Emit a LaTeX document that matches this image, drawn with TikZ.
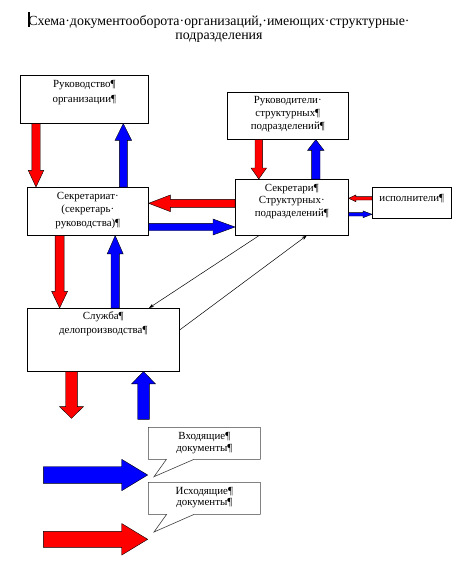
\documentclass[tikz,border=0pt]{standalone}
\usepackage{fontspec}
\setmainfont{Liberation Serif}
\usetikzlibrary{calc,shapes.callouts,arrows.meta}
\definecolor{ared}{RGB}{255,0,0}
\definecolor{ablue}{RGB}{0,0,255}
\tikzset{
  x=1pt,y=-1pt,
  box/.style={draw=black, line width=0.6pt, inner sep=0pt, anchor=north west, fill=white},
  callbox/.style={rectangle callout, draw=black!75, line width=0.6pt, inner sep=0pt,
    fill=white, anchor=north west, callout pointer width=27.6pt},
  thinarrow/.style={draw=black, line width=0.5pt, -{Stealth[length=5pt,width=3.5pt]}},
  blockedge/.style={draw=black, line width=0.4pt, line join=miter},
}
\newcommand\boxtext[5]{\parbox[t][#2pt][t]{#1pt}{\centering\fontsize{10.9}{#4}\selectfont\rule{0pt}{#3pt}#5}}
% #1 colour, #2 from, #3 to, #4 shaft half width, #5 head half width, #6 head length
\newcommand\blockarrow[6]{%
  \coordinate (ba) at (#2);
  \coordinate (bb) at (#3);
  \coordinate (bh) at ($(bb)!#6pt!(ba)$);
  \filldraw[fill=#1, blockedge]
    ($(ba)!#4pt!90:(bb)$) -- ($(bh)!#4pt!90:(bb)$) -- ($(bh)!#5pt!90:(bb)$) -- (bb)
    -- ($(bh)!#5pt!-90:(bb)$) -- ($(bh)!#4pt!-90:(bb)$) -- ($(ba)!#4pt!-90:(bb)$) -- cycle;
}
\begin{document}
\begin{tikzpicture}
\useasboundingbox[fill=white] (0,0) rectangle (460,579);

% title
\node[inner sep=0pt, anchor=north] (title) at (219,10)
  {\parbox[t]{440pt}{\centering\fontsize{13.9}{14}\selectfont\rule{0pt}{15pt}Схема·документооборота·организаций,·имеющих·структурные·\\подразделения}};
\draw[line width=1.1pt] (29,12) -- (29,27);

% boxes
\node[box] (ruk) at (20,75) {\boxtext{128}{48}{12}{15}{Руководство¶\\организации¶}};
\node[box] (sekr) at (27,187) {\boxtext{121}{48}{12.3}{13.3}{Секретариат·\\(секретарь·\\руководства)¶}};
\node[box] (rukS) at (227,92) {\boxtext{121}{47}{10.8}{13.3}{Руководители·\\структурных¶\\подразделений¶}};
\node[box] (sekS) at (235,179) {\boxtext{113}{56}{12}{12.5}{Секретари¶\\Структурных·\\подразделений¶}};
\node[box] (isp) at (372,187) {\boxtext{79}{31}{14.6}{12}{исполнители¶}};
\node[box] (sluz) at (27,308) {\boxtext{152}{63}{11.5}{13.3}{Служба¶\\делопроизводства¶}};
\node[callbox, callout absolute pointer={(154,476.7)}] (inc) at (148,427)
  {\boxtext{112}{32}{12}{12.3}{Входящие¶\\документы¶}};
\node[callbox, callout absolute pointer={(154,532)}] (outc) at (148,482)
  {\boxtext{112}{32}{12}{11.6}{Исходящие¶\\документы¶}};

% block arrows
\blockarrow{ared}{$(ruk.south west)+(16,0)$}{$(sekr.north west)+(9,0)$}{4.2}{7.8}{16.7}
\blockarrow{ablue}{$(sekr.north west)+(96.3,0)$}{$(ruk.south west)+(103.3,0)$}{4}{8.3}{16.7}
\blockarrow{ared}{$(sekS.north west)+(0,24.3)$}{$(sekr.north east)+(0,16.3)$}{4}{8.3}{21.7}
\blockarrow{ablue}{$(sekr.north east)+(0,40)$}{$(sekS.north west)+(0,48)$}{3.7}{8}{22}
\blockarrow{ared}{$(rukS.south west)+(31.8,0)$}{$(sekS.north west)+(23.8,0)$}{3.8}{7.8}{11}
\blockarrow{ablue}{$(sekS.north west)+(80.8,0)$}{$(rukS.south west)+(88.8,0)$}{4.2}{8.2}{10.7}
\blockarrow{ared}{$(isp.north west)+(0,11.3)$}{$(sekS.north east)+(0,19.3)$}{1.7}{3.4}{7.3}
\blockarrow{ablue}{$(sekS.north east)+(0,35.3)$}{$(isp.north west)+(0,27.3)$}{1.7}{3.4}{9}
\blockarrow{ared}{$(sekr.south west)+(32.6,0)$}{$(sluz.north west)+(32.6,0)$}{4.5}{8}{16.7}
\blockarrow{ablue}{$(sluz.north west)+(88.2,0)$}{$(sekr.south west)+(88.2,0)$}{4.2}{8}{18.3}

\coordinate (outEnd) at (71.5,418.3);
\coordinate (inStart) at (143.5,419.3);
\blockarrow{ared}{$(sluz.south west)+(44.5,0)$}{outEnd}{5.8}{12}{11.7}
\blockarrow{ablue}{inStart}{$(sluz.south west)+(116.5,0)$}{5.8}{12}{12.3}

\coordinate (legInA) at (43.3,475);
\coordinate (legInB) at (147.7,475);
\coordinate (legOutA) at (43.3,539.3);
\coordinate (legOutB) at (147.7,539.3);
\blockarrow{ablue}{legInA}{legInB}{8.3}{15.7}{26}
\blockarrow{ared}{legOutA}{legOutB}{8}{15.8}{26}

% thin arrows
\draw[thinarrow] ($(sekS.south west)+(24,0)$) -- ($(sluz.north west)+(122,0)$);
\draw[thinarrow] ($(sluz.north east)+(0,22)$) -- ($(sekS.south west)+(71.7,0)$);
\end{tikzpicture}
\end{document}
